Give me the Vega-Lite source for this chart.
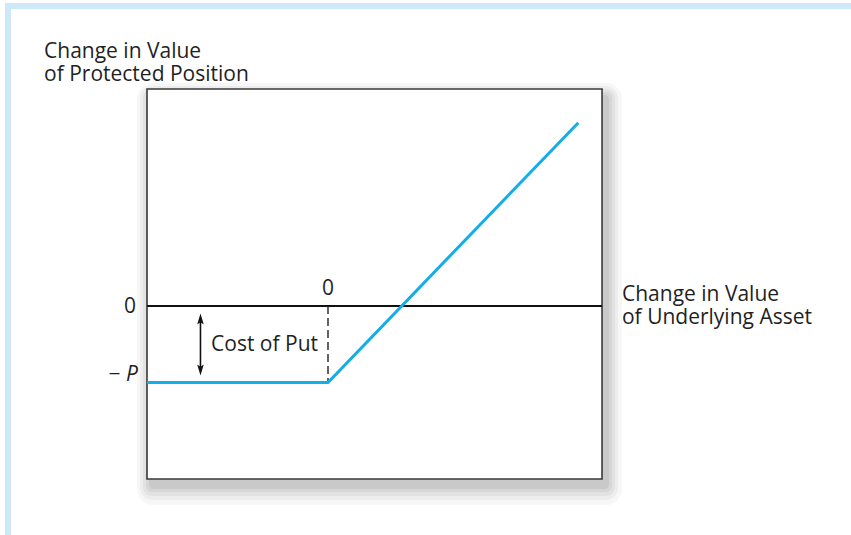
{
  "$schema": "https://vega.github.io/schema/vega-lite/v6.json",
  "width": 851,
  "height": 535,
  "autosize": {"type": "none"},
  "padding": 0,
  "background": "white",
  "config": {"view": {"stroke": null}},
  "datasets": {
    "frame": [{"x": -4.183, "x2": 7.2, "y": 3.922, "y2": -3.4}],
    "box": [{"x": -2.366, "x2": 3.582, "y": 2.837, "y2": -2.261}],
    "payoff": [{"x": -2.366, "y": -1}, {"x": 0, "y": -1}, {"x": 3.272, "y": 2.396}],
    "zeroline": [{"x": -2.366, "x2": 3.582, "y": 0}],
    "dashed": [{"x": 0, "y": 0, "y2": -1}],
    "arrowline": [{"x": -1.667, "y": -0.17, "y2": -0.837}],
    "arrowup": [{"x": -1.667, "y": -0.17}],
    "arrowdown": [{"x": -1.667, "y": -0.837}],
    "leftlabels": [
      {"x": -3.712, "y": 3.242, "text": "Change in Value"},
      {"x": -3.712, "y": 2.941, "text": "of Protected Position"},
      {"x": 3.843, "y": 0.065, "text": "Change in Value"},
      {"x": 3.843, "y": -0.235, "text": "of Underlying Asset"},
      {"x": -1.529, "y": -0.588, "text": "Cost of Put"}
    ],
    "centerlabels": [
      {"x": 0, "y": 0.144, "text": "0"},
      {"x": -2.79, "y": -0.98, "text": "−"}
    ],
    "rightlabels": [
      {"x": -2.51, "y": -0.092, "text": "0"}
    ],
    "italiclabels": [
      {"x": -2.484, "y": -0.98, "text": "P"}
    ]
  },
  "encoding": {
    "x": {"field": "x", "type": "quantitative", "axis": null, "scale": {"domain": [-4.28758, 6.8366], "nice": false, "zero": false}},
    "y": {"field": "y", "type": "quantitative", "axis": null, "scale": {"domain": [-2.99346, 4.0], "nice": false, "zero": false}}
  },
  "layer": [
    {
      "data": {"name": "frame"},
      "mark": {"type": "rect", "fill": "white", "stroke": "#cbe9f8", "strokeWidth": 6, "clip": false},
      "encoding": {"x2": {"field": "x2"}, "y2": {"field": "y2"}}
    },
    {
      "data": {"name": "box"},
      "mark": {"type": "rect", "fill": "#000000", "opacity": 0.03, "cornerRadius": 16, "xOffset": -10, "x2Offset": 20, "yOffset": -6, "y2Offset": 26},
      "encoding": {"x2": {"field": "x2"}, "y2": {"field": "y2"}}
    },
    {
      "data": {"name": "box"},
      "mark": {"type": "rect", "fill": "#000000", "opacity": 0.04, "cornerRadius": 12, "xOffset": -7, "x2Offset": 16, "yOffset": -3, "y2Offset": 21},
      "encoding": {"x2": {"field": "x2"}, "y2": {"field": "y2"}}
    },
    {
      "data": {"name": "box"},
      "mark": {"type": "rect", "fill": "#000000", "opacity": 0.045, "cornerRadius": 9, "xOffset": -4, "x2Offset": 13, "yOffset": 0, "y2Offset": 17},
      "encoding": {"x2": {"field": "x2"}, "y2": {"field": "y2"}}
    },
    {
      "data": {"name": "box"},
      "mark": {"type": "rect", "fill": "#000000", "opacity": 0.05, "cornerRadius": 6, "xOffset": -1, "x2Offset": 10, "yOffset": 3, "y2Offset": 13},
      "encoding": {"x2": {"field": "x2"}, "y2": {"field": "y2"}}
    },
    {
      "data": {"name": "box"},
      "mark": {"type": "rect", "fill": "#000000", "opacity": 0.06, "cornerRadius": 4, "xOffset": 2, "x2Offset": 7, "yOffset": 6, "y2Offset": 10},
      "encoding": {"x2": {"field": "x2"}, "y2": {"field": "y2"}}
    },
    {
      "data": {"name": "box"},
      "mark": {"type": "rect", "fill": "white", "stroke": "#3a3a3a", "strokeWidth": 1.6},
      "encoding": {"x2": {"field": "x2"}, "y2": {"field": "y2"}}
    },
    {
      "data": {"name": "zeroline"},
      "mark": {"type": "rule", "color": "#111111", "strokeWidth": 2},
      "encoding": {"x2": {"field": "x2"}}
    },
    {
      "data": {"name": "dashed"},
      "mark": {"type": "rule", "color": "#111111", "strokeWidth": 1.3, "strokeDash": [8, 4]},
      "encoding": {"y2": {"field": "y2"}}
    },
    {
      "data": {"name": "payoff"},
      "mark": {"type": "line", "color": "#12aee8", "strokeWidth": 3},
      "encoding": {}
    },
    {
      "data": {"name": "arrowline"},
      "mark": {"type": "rule", "color": "#111111", "strokeWidth": 1.6},
      "encoding": {"y2": {"field": "y2"}}
    },
    {
      "data": {"name": "arrowup"},
      "mark": {"type": "point", "shape": "M0,-1L0.6,1L0,0.6L-0.6,1Z", "size": 120, "filled": true, "color": "#111111", "opacity": 1},
      "encoding": {}
    },
    {
      "data": {"name": "arrowdown"},
      "mark": {"type": "point", "shape": "M0,1L0.6,-1L0,-0.6L-0.6,-1Z", "size": 120, "filled": true, "color": "#111111", "opacity": 1},
      "encoding": {}
    },
    {
      "data": {"name": "leftlabels"},
      "mark": {"type": "text", "align": "left", "baseline": "alphabetic", "font": "Open Sans", "fontSize": 21, "color": "#1f1f1f"},
      "encoding": {"text": {"field": "text"}}
    },
    {
      "data": {"name": "centerlabels"},
      "mark": {"type": "text", "align": "center", "baseline": "alphabetic", "font": "Open Sans", "fontSize": 21, "color": "#1f1f1f"},
      "encoding": {"text": {"field": "text"}}
    },
    {
      "data": {"name": "rightlabels"},
      "mark": {"type": "text", "align": "right", "baseline": "alphabetic", "font": "Open Sans", "fontSize": 21, "color": "#1f1f1f"},
      "encoding": {"text": {"field": "text"}}
    },
    {
      "data": {"name": "italiclabels"},
      "mark": {"type": "text", "align": "right", "baseline": "alphabetic", "font": "Open Sans", "fontSize": 21, "fontStyle": "italic", "color": "#1f1f1f"},
      "encoding": {"text": {"field": "text"}}
    }
  ]
}
